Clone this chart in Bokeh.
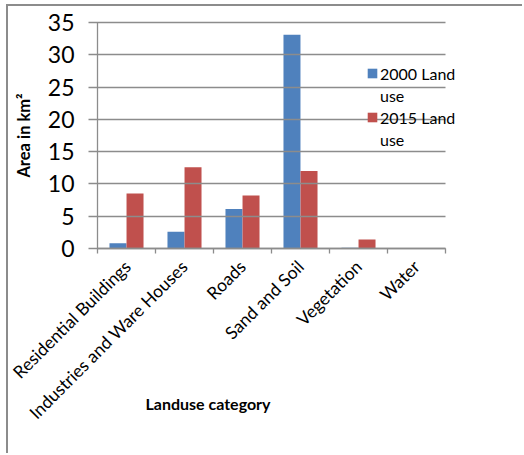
from bokeh.plotting import figure
from bokeh.models import (ColumnDataSource, Range1d, LinearAxis, FixedTicker, Legend, LegendItem)
from bokeh.transform import dodge
from bokeh.embed import file_html
from bokeh.resources import INLINE
import numpy as np
import math

categories = ["Residential Buildings", "Industries and Ware Houses", "Roads",
              "Sand and Soil", "Vegetation", "Water"]
land_2000 = [0.8, 2.6, 6.1, 33.1, 0.1, 0.0]
land_2015 = [8.5, 12.6, 8.2, 12.0, 1.4, 0.0]
series_names = ["2000 Land", "2015 Land"]
series_suffix = "use"
y_ticks = [0, 5, 10, 15, 20, 25, 30, 35]
x_title = "Landuse category"

BLUE = "#4F81BD"
RED = "#C0504D"
GRID = "#8c8c8c"
FONT = "Lato"

n = len(categories)
centers = np.arange(n) + 0.5
source = ColumnDataSource(dict(x=centers, cats=categories, y2000=land_2000, y2015=land_2015))

CAT_PX = 348      # width of the category area in pixels
FRAME_PX = 373    # frame width (extra room on the right for the legend)
W, H = 516, 449
LEFT = 89

p = figure(width=W, height=H, x_range=Range1d(0, n * FRAME_PX / CAT_PX), y_range=Range1d(0, 35),
           output_backend="svg", toolbar_location=None, x_axis_location=None,
           min_border_left=LEFT, min_border_right=W - LEFT - FRAME_PX, min_border_top=16,
           min_border_bottom=207)
p.outline_line_color = None
p.background_fill_color = "white"
p.border_fill_color = "white"

r1 = p.vbar(x=dodge("x", -0.147), top="y2000", width=0.293, source=source,
            fill_color=BLUE, line_color=None)
r2 = p.vbar(x=dodge("x", 0.147), top="y2015", width=0.293, source=source,
            fill_color=RED, line_color=None)
# invisible renderer used only for the wrapped second line of each legend entry
r_blank = p.vbar(x="x", top="y2015", width=0.01, source=source,
                 fill_alpha=0, line_alpha=0)

# y axis: its inward ticks act as the horizontal gridlines over the category area
ya = p.yaxis[0]
ya.ticker = FixedTicker(ticks=y_ticks)
ya.minor_tick_line_color = None
ya.major_tick_in = CAT_PX
ya.major_tick_out = 9
ya.major_tick_line_color = GRID
ya.major_tick_line_width = 1.3
ya.axis_line_color = GRID
ya.axis_line_width = 1.3
ya.major_label_text_font = FONT
ya.major_label_text_font_size = "23px"
ya.major_label_text_color = "black"
ya.major_label_standoff = 14
ya.axis_label = "Area in km²"
ya.axis_label_text_font = FONT
ya.axis_label_text_font_style = "bold"
ya.axis_label_text_font_size = "16.5px"
ya.axis_label_text_color = "black"
ya.axis_label_standoff = 11

for g in p.ygrid:
    g.visible = False
for g in p.xgrid:
    g.visible = False

# boundary tick axis
tick_axis = LinearAxis(ticker=FixedTicker(ticks=list(range(n + 1))), bounds=(0, n),
                       major_tick_in=0, major_tick_out=5, major_tick_line_color=GRID,
                       major_tick_line_width=1.3, minor_tick_line_color=None,
                       axis_line_color=GRID, axis_line_width=1.3,
                       major_label_text_font_size="0px", major_label_standoff=0)
p.add_layout(tick_axis, "below")

cat_axis = LinearAxis(ticker=FixedTicker(ticks=list(centers)),
                      major_label_overrides={float(c): name for c, name in zip(centers, categories)},
                      axis_line_color=None, major_tick_line_color=None, minor_tick_line_color=None,
                      major_tick_out=0, major_tick_in=0, major_label_orientation=math.pi / 4,
                      major_label_text_font=FONT, major_label_text_font_size="17.5px",
                      major_label_text_color="black", major_label_standoff=10)
p.add_layout(cat_axis, "below")

# x axis title; trailing em spaces move the centred title left, where the reference has it
title_axis = LinearAxis(ticker=FixedTicker(ticks=[]),
                        axis_line_color=None, major_tick_line_color=None, minor_tick_line_color=None,
                        major_tick_out=0, major_tick_in=0, major_label_text_font_size="0px",
                        major_label_standoff=0,
                        axis_label=x_title + "\u2003" * 12 + "\u2002", axis_label_text_font=FONT,
                        axis_label_text_font_style="bold", axis_label_text_font_size="16px",
                        axis_label_text_color="black", axis_label_standoff=-40)
p.add_layout(title_axis, "below")

legend = Legend(items=[LegendItem(label=series_names[0], renderers=[r1]),
                       LegendItem(label=series_suffix, renderers=[r_blank]),
                       LegendItem(label=series_names[1], renderers=[r2]),
                       LegendItem(label=series_suffix, renderers=[r_blank])],
                location=(269, 98), padding=0, margin=0, spacing=0,
                background_fill_alpha=0, border_line_color=None,
                label_text_font=FONT, label_text_font_size="16px", label_text_color="black",
                label_height=22, glyph_width=12, glyph_height=12, label_standoff=2)
p.add_layout(legend, "center")

p.styles = {"border-left": "2px solid #8c8c8c", "border-top": "2px solid #8c8c8c",
            "margin-left": "6px", "margin-top": "4px"}

open("out.html", "w").write(file_html(p, INLINE))
